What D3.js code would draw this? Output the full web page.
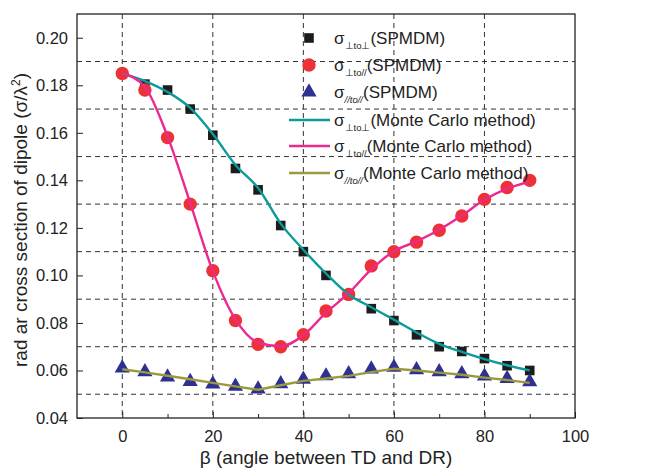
<!DOCTYPE html>
<html><head><meta charset="utf-8">
<script src="https://cdn.jsdelivr.net/npm/d3@7"></script>
<style>body{margin:0;background:#fff}svg{display:block;font-family:"Liberation Sans",Arial,sans-serif}</style>
</head><body><svg id="c" width="652" height="468"></svg>
<script>
const beta = [0,5,10,15,20,25,30,35,40,45,50,55,60,65,70,75,80,85,90];
const spmdmPerpPerp = [0.185,0.1805,0.178,0.170,0.159,0.145,0.136,0.121,0.110,0.100,0.092,0.086,0.081,0.075,0.070,0.068,0.065,0.062,0.060];
const spmdmPerpPar  = [0.185,0.178,0.158,0.130,0.102,0.081,0.071,0.070,0.075,0.085,0.092,0.104,0.110,0.114,0.119,0.125,0.132,0.137,0.140];
const spmdmParPar   = [0.061,0.0594,0.0572,0.0553,0.0543,0.0533,0.0522,0.0544,0.0563,0.0577,0.0586,0.0606,0.0613,0.0603,0.0594,0.0586,0.0576,0.0566,0.0552];
const mcPerpPerp = [0.185,0.1818,0.1772,0.1705,0.1595,0.1465,0.1368,0.1218,0.1108,0.1008,0.0920,0.0866,0.0814,0.0760,0.0712,0.0678,0.0648,0.0622,0.0600];
const mcPerpPar  = [0.185,0.1793,0.1585,0.1305,0.1018,0.0815,0.0718,0.0702,0.0748,0.0843,0.0925,0.1025,0.1102,0.1143,0.1192,0.1252,0.1318,0.1365,0.1395];
const mcParPar   = [0.0605,0.0592,0.0578,0.0563,0.0548,0.0533,0.0519,0.0538,0.0556,0.0566,0.0577,0.0593,0.0607,0.0600,0.0591,0.0582,0.0570,0.0560,0.0548];
const xTicks = [0,20,40,60,80,100];
const xMinorTicks = [10,30,50,70,90];
const yTicks = [0.04,0.06,0.08,0.10,0.12,0.14,0.16,0.18,0.20];
const yGrid = [0.05,0.07,0.09,0.11,0.13,0.15,0.17,0.19];
const xGrid = [0,20,40,60,80];
const legendSubs = ["⊥to⊥","⊥to//","//to//","⊥to⊥","⊥to//","//to//"];
const legendNames = ["(SPMDM)","(SPMDM)","(SPMDM)","(Monte Carlo method)","(Monte Carlo method)","(Monte Carlo method)"];

const L=77,R=575,T=14,B=418;
const svg=d3.select("#c");
const x=d3.scaleLinear().domain([-10,100]).range([L,R]);
const y=d3.scaleLinear().domain([0.04,0.21]).range([B,T]);

const cTeal="#0c9a9a",cPink="#ec2a8e",cOlive="#9a9a3c",cRed="#ec3237",cBlue="#2e3192",cBlack="#1c1c1c";

// grid
const g=svg.append("g");
g.selectAll(".hg").data(yGrid).join("line").attr("x1",L).attr("x2",R).attr("y1",d=>y(d)).attr("y2",d=>y(d))
 .attr("stroke","#333").attr("stroke-width",1).attr("stroke-dasharray","5,4");
g.selectAll(".vg").data(xGrid).join("line").attr("y1",T).attr("y2",B).attr("x1",d=>x(d)).attr("x2",d=>x(d))
 .attr("stroke","#333").attr("stroke-width",1).attr("stroke-dasharray","5,4");

// axes
const xAx=svg.append("g").attr("transform",`translate(0,${B})`)
 .call(d3.axisBottom(x).tickValues(xTicks).tickSizeInner(-6).tickSizeOuter(0).tickPadding(12).tickFormat(d3.format("d")));
const xMin=svg.append("g").attr("transform",`translate(0,${B})`)
 .call(d3.axisBottom(x).tickValues(xMinorTicks).tickSizeInner(-4).tickSizeOuter(0).tickFormat(""));
const yAx=svg.append("g").attr("transform",`translate(${L},0)`)
 .call(d3.axisLeft(y).tickValues(yTicks).tickSizeInner(-6).tickSizeOuter(0).tickPadding(9).tickFormat(d3.format(".2f")));
[xAx,xMin,yAx].forEach(a=>{a.select(".domain").remove();a.selectAll("line").attr("stroke","#222");
 a.selectAll("text").attr("font-size",16.5).attr("fill","#222").attr("font-family","Liberation Sans, Arial, sans-serif");});
svg.append("rect").attr("x",L).attr("y",T).attr("width",R-L).attr("height",B-T).attr("fill","none").attr("stroke","#222").attr("stroke-width",1.3);

// markers
const pts=(arr)=>beta.map((b,i)=>[b,arr[i]]);
svg.append("g").selectAll("rect").data(pts(spmdmPerpPerp)).join("rect")
 .attr("x",d=>x(d[0])-4.8).attr("y",d=>y(d[1])-4.8).attr("width",9.6).attr("height",9.6).attr("fill",cBlack);
svg.append("g").selectAll("circle").data(pts(spmdmPerpPar)).join("circle")
 .attr("cx",d=>x(d[0])).attr("cy",d=>y(d[1])).attr("r",6.7).attr("fill",cRed);
const tri=d3.symbol().type(d3.symbolTriangle).size(100);
svg.append("g").selectAll("path").data(pts(spmdmParPar)).join("path")
 .attr("transform",d=>`translate(${x(d[0])},${y(d[1])})`).attr("d",tri).attr("fill",cBlue);

// lines
const lineSmooth=d3.line().x(d=>x(d[0])).y(d=>y(d[1])).curve(d3.curveMonotoneX);
const lineLin=d3.line().x(d=>x(d[0])).y(d=>y(d[1]));
svg.append("path").attr("d",lineSmooth(pts(mcPerpPerp))).attr("fill","none").attr("stroke",cTeal).attr("stroke-width",2.4);
svg.append("path").attr("d",lineSmooth(pts(mcPerpPar))).attr("fill","none").attr("stroke",cPink).attr("stroke-width",2.4);
svg.append("path").attr("d",lineLin(pts(mcParPar))).attr("fill","none").attr("stroke",cOlive).attr("stroke-width",2.4);

// legend
const lg=svg.append("g");
const rowY=[38,65,92,120,146,173];
const symX=309,txtX=334;
lg.append("rect").attr("x",symX-4.8).attr("y",rowY[0]-4.8).attr("width",9.6).attr("height",9.6).attr("fill",cBlack);
lg.append("circle").attr("cx",symX).attr("cy",rowY[1]).attr("r",6.7).attr("fill",cRed);
lg.append("path").attr("transform",`translate(${symX},${rowY[2]})`).attr("d",tri).attr("fill",cBlue);
[cTeal,cPink,cOlive].forEach((c,i)=>lg.append("line").attr("x1",289).attr("x2",330).attr("y1",rowY[3+i]).attr("y2",rowY[3+i]).attr("stroke",c).attr("stroke-width",2.4));
legendNames.forEach((n,i)=>{
 const t=lg.append("text").attr("x",txtX).attr("y",rowY[i]+6).attr("font-size",17).attr("fill","#222");
 t.append("tspan").text("σ");
 t.append("tspan").attr("font-size",9.5).attr("dy",5).attr("font-style",i%3===2?"italic":null).text(legendSubs[i]);
 t.append("tspan").attr("dy",-5).text(n);
});

// axis titles
svg.append("text").attr("x",(L+R)/2).attr("y",464).attr("text-anchor","middle").attr("font-size",19).attr("fill","#222")
 .text("β (angle between TD and DR)");
const yt=svg.append("text").attr("transform",`translate(27,${(T+B)/2+4}) rotate(-90)`).attr("text-anchor","middle").attr("font-size",19).attr("fill","#222");
yt.append("tspan").text("rad ar cross section of dipole (σ/λ");
yt.append("tspan").attr("font-size",12).attr("dy",-7).text("2");
yt.append("tspan").attr("dy",7).text(")");
</script></body></html>
